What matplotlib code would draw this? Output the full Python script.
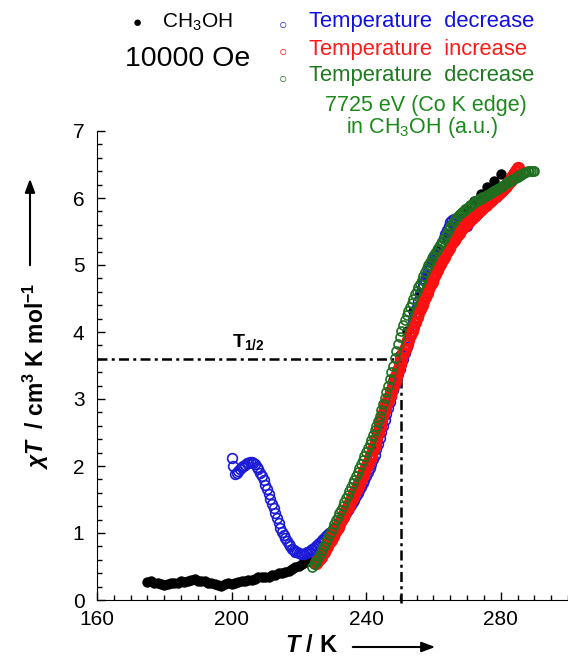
import matplotlib
matplotlib.use("Agg")
import matplotlib.pyplot as plt
import numpy as np

plt.rcParams['font.family'] = ['Liberation Sans', 'DejaVu Sans']
plt.rcParams['mathtext.fontset'] = 'custom'
plt.rcParams['mathtext.rm'] = 'Liberation Sans'
plt.rcParams['mathtext.it'] = 'Liberation Sans:italic:bold'
plt.rcParams['mathtext.bf'] = 'Liberation Sans:bold'

# ==========================
# Data
# ==========================
# CH3OH, filled black
black_T = [175, 176, 177, 178, 179, 180, 181, 182, 183, 184, 185, 186, 187, 188, 189,
           190, 191, 192, 193, 194, 195, 196, 197, 198, 199, 200, 201, 202, 203, 204,
           205, 206, 207, 208, 209, 210, 211, 212, 213, 214, 215, 216, 217, 218, 219,
           220, 221, 222, 223, 224, 226, 228, 230, 232, 234, 236, 238, 240, 242, 244,
           246, 248, 250, 252, 254, 256, 258, 260, 262, 264, 266, 268, 270, 272, 274,
           276, 278, 280]
black_chiT = [0.27, 0.28, 0.26, 0.25, 0.24, 0.23, 0.24, 0.25, 0.26, 0.26, 0.28, 0.27, 0.28, 0.30, 0.31,
              0.29, 0.28, 0.28, 0.26, 0.25, 0.24, 0.22, 0.21, 0.24, 0.25, 0.24, 0.25, 0.27, 0.28, 0.29,
              0.30, 0.30, 0.32, 0.34, 0.35, 0.34, 0.35, 0.37, 0.38, 0.40, 0.41, 0.42, 0.44, 0.46, 0.49,
              0.51, 0.54, 0.56, 0.58, 0.62, 0.70, 0.82, 0.95, 1.08, 1.30, 1.52, 1.74, 1.98, 2.24, 2.55,
              2.90, 3.28, 3.66, 4.02, 4.32, 4.58, 4.82, 5.04, 5.22, 5.40, 5.56, 5.70, 5.82, 5.95, 6.06,
              6.16, 6.26, 6.36]

# temperature decrease (blue, open), every 0.5 K from 200 K
blue_T = np.arange(200, 270.01, 0.5)
blue_chiT = [2.12, 2.00, 1.88, 1.90, 1.92, 1.95, 1.98, 2.00, 2.02, 2.04,
             2.05, 2.06, 2.06, 2.05, 2.03, 1.99, 1.95, 1.90, 1.85, 1.79,
             1.72, 1.65, 1.58, 1.51, 1.44, 1.37, 1.30, 1.22, 1.15, 1.08,
             1.02, 0.97, 0.92, 0.88, 0.84, 0.80, 0.76, 0.74, 0.72, 0.71,
             0.70, 0.69, 0.69, 0.69, 0.70, 0.71, 0.72, 0.74, 0.76, 0.78,
             0.80, 0.82, 0.85, 0.87, 0.90, 0.92, 0.95, 0.97, 1.00, 1.02,
             1.05, 1.07, 1.08, 1.12, 1.15, 1.18, 1.22, 1.26, 1.30, 1.34,
             1.38, 1.42, 1.46, 1.50, 1.55, 1.59, 1.64, 1.69, 1.74, 1.79,
             1.85, 1.91, 1.97, 2.03, 2.10, 2.17, 2.25, 2.33, 2.42, 2.51,
             2.60, 2.69, 2.78, 2.87, 2.96, 3.05, 3.14, 3.22, 3.30, 3.37,
             3.45, 3.52, 3.60, 3.69, 3.78, 3.88, 3.98, 4.08, 4.18, 4.28,
             4.38, 4.47, 4.56, 4.65, 4.72, 4.78, 4.85, 4.91, 4.97, 5.03,
             5.08, 5.13, 5.18, 5.23, 5.28, 5.34, 5.40, 5.46, 5.52, 5.58,
             5.64, 5.67, 5.68, 5.67, 5.66, 5.64, 5.62, 5.60, 5.59, 5.58,
             5.58]

# temperature increase (red, open), every 0.5 K from 225 K
red_T = np.arange(225, 285.01, 0.5)
red_chiT = [0.55, 0.58, 0.61, 0.64, 0.68, 0.72, 0.77, 0.81, 0.86, 0.90,
            0.95, 1.00, 1.05, 1.09, 1.14, 1.19, 1.24, 1.29, 1.34, 1.39,
            1.44, 1.49, 1.54, 1.59, 1.64, 1.70, 1.75, 1.80, 1.86, 1.92,
            1.98, 2.04, 2.10, 2.17, 2.25, 2.32, 2.40, 2.49, 2.58, 2.68,
            2.78, 2.85, 2.92, 2.98, 3.04, 3.12, 3.20, 3.27, 3.35, 3.43,
            3.52, 3.60, 3.68, 3.75, 3.82, 3.88, 3.95, 4.01, 4.08, 4.15,
            4.22, 4.28, 4.34, 4.40, 4.46, 4.52, 4.58, 4.64, 4.70, 4.75,
            4.81, 4.86, 4.92, 4.97, 5.02, 5.07, 5.12, 5.16, 5.21, 5.25,
            5.30, 5.34, 5.38, 5.41, 5.45, 5.48, 5.52, 5.55, 5.58, 5.60,
            5.63, 5.65, 5.68, 5.70, 5.73, 5.75, 5.78, 5.80, 5.83, 5.85,
            5.88, 5.90, 5.92, 5.94, 5.97, 5.99, 6.01, 6.03, 6.06, 6.08,
            6.10, 6.12, 6.15, 6.18, 6.21, 6.24, 6.27, 6.31, 6.36, 6.40,
            6.45]

# temperature decrease, 7725 eV XAS (green, open), every 0.5 K from 224 K
green_T = np.arange(224, 290.01, 0.5)
green_chiT = [0.50, 0.53, 0.57, 0.61, 0.65, 0.70, 0.75, 0.80, 0.86, 0.91,
              0.97, 1.02, 1.08, 1.13, 1.19, 1.24, 1.30, 1.35, 1.41, 1.46,
              1.52, 1.57, 1.63, 1.68, 1.74, 1.79, 1.85, 1.91, 1.97, 2.03,
              2.09, 2.15, 2.21, 2.27, 2.33, 2.39, 2.46, 2.53, 2.60, 2.67,
              2.75, 2.83, 2.92, 3.01, 3.10, 3.20, 3.30, 3.40, 3.50, 3.61,
              3.72, 3.82, 3.92, 4.01, 4.10, 4.18, 4.25, 4.32, 4.38, 4.44,
              4.50, 4.56, 4.61, 4.67, 4.72, 4.78, 4.84, 4.90, 4.95, 5.00,
              5.05, 5.10, 5.14, 5.18, 5.22, 5.26, 5.30, 5.35, 5.39, 5.44,
              5.48, 5.53, 5.57, 5.61, 5.65, 5.68, 5.71, 5.74, 5.76, 5.79,
              5.81, 5.83, 5.85, 5.87, 5.89, 5.91, 5.93, 5.95, 5.96, 5.98,
              5.99, 6.01, 6.02, 6.03, 6.04, 6.06, 6.07, 6.09, 6.10, 6.12,
              6.13, 6.15, 6.16, 6.18, 6.20, 6.22, 6.23, 6.25, 6.26, 6.28,
              6.29, 6.31, 6.32, 6.34, 6.35, 6.37, 6.38, 6.39, 6.40, 6.41,
              6.41, 6.41, 6.40]

T_half = 250.3
chiT_half = 3.6

blue_c = '#1c1cd8'
red_c = '#ff1010'
green_c = '#1f6e1f'

# ==========================
# Plotting
# ==========================
fig = plt.figure(figsize=(5.68, 6.56), dpi=100)
ax = fig.add_axes([97 / 568, 1 - 600 / 656, 471 / 568, 469 / 656])

ax.plot(black_T, black_chiT, 'o', color='black', ms=7.5, mew=0, zorder=2)
ax.plot(blue_T, blue_chiT, 'o', mfc='none', mec=blue_c, ms=7, mew=1.2, zorder=3)
ax.plot(red_T, red_chiT, 'o', mfc='none', mec=red_c, ms=7, mew=2.6, zorder=4)
ax.plot(green_T, green_chiT, 'o', mfc='none', mec=green_c, ms=6.5, mew=1.2, zorder=5)

# T1/2 guide lines
ax.plot([160, T_half], [chiT_half, chiT_half], color='black', lw=1.8,
        dashes=(4, 1.7, 1.2, 1.7), zorder=1, clip_on=False)
ax.plot([T_half, T_half], [-0.05, chiT_half], color='black', lw=1.8,
        dashes=(4, 1.7, 1.2, 1.7), zorder=1, clip_on=False)
ax.text(200, 3.78, r'$\mathbf{T}_{\mathbf{1/2}}$', fontsize=14, ha='left', va='baseline')

# ==========================
# Axes formatting
# ==========================
ax.set_xlim(160, 300)
ax.set_ylim(0, 7)
ax.set_xticks([160, 200, 240, 280])
ax.set_xticks(np.arange(160, 301, 5), minor=True)
ax.set_yticks(np.arange(0, 8, 1))
ax.set_yticks(np.arange(0, 7.01, 0.2), minor=True)
ax.spines['top'].set_visible(False)
ax.spines['right'].set_visible(False)
ax.tick_params(which='both', direction='in', labelsize=15, width=1)
ax.tick_params(which='major', length=6)
ax.tick_params(which='minor', length=3.5)
ax.tick_params(axis='x', pad=7)
ax.tick_params(axis='y', pad=9)

# axis labels with arrows
fig.text(311 / 568, 1 - 646 / 656, r'$T$ / K', fontsize=17, fontweight='bold',
         ha='center', va='center')
fig.add_artist(matplotlib.patches.FancyArrowPatch(
    (350 / 568, 1 - 647 / 656), (438 / 568, 1 - 647 / 656), transform=fig.transFigure,
    arrowstyle='-|>,head_length=8,head_width=3', lw=1.5, color='black', mutation_scale=1))
fig.text(36 / 568, 1 - 376 / 656, r'$\chi T$  / cm$^{\mathbf{3}}$ K mol$^{\mathbf{-1}}$',
         fontsize=16.5, fontweight='bold', rotation=90, ha='center', va='center')
fig.add_artist(matplotlib.patches.FancyArrowPatch(
    (30 / 568, 1 - 268 / 656), (30 / 568, 1 - 176 / 656), transform=fig.transFigure,
    arrowstyle='-|>,head_length=8,head_width=3', lw=1.5, color='black', mutation_scale=1))

# ==========================
# Legend block
# ==========================
fig.text(137 / 568, 1 - 23 / 656, '\u25cf', fontsize=11, ha='center', va='center')
fig.text(162 / 568, 1 - 22 / 656, r'CH$_3$OH', fontsize=15, ha='left', va='center')
fig.text(188 / 568, 1 - 59 / 656, '10000 Oe', fontsize=20.5, ha='center', va='center')

legend_rows = [('Temperature decrease', blue_c, '#1010e0', 22),
               ('Temperature increase', red_c, '#ff1a1a', 49),
               ('Temperature decrease', green_c, '#1e7a1e', 76)]
for label, mc, tc, ypix in legend_rows:
    fig.text(283 / 568, 1 - (ypix + 2) / 656, '\u25cb', fontsize=10, color=mc,
             ha='center', va='center')
    fig.text(309 / 568, 1 - ypix / 656, label.replace(' ', '  '), fontsize=15.8, color=tc,
             ha='left', va='center')
fig.text(426 / 568, 1 - 105 / 656, '7725 eV (Co K edge)', fontsize=15.5, color='#1a8a1a',
         ha='center', va='center')
fig.text(422 / 568, 1 - 127 / 656, r'in CH$_3$OH (a.u.)', fontsize=15.5, color='#1a8a1a',
         ha='center', va='center')

fig.savefig('out.png', dpi=100)
